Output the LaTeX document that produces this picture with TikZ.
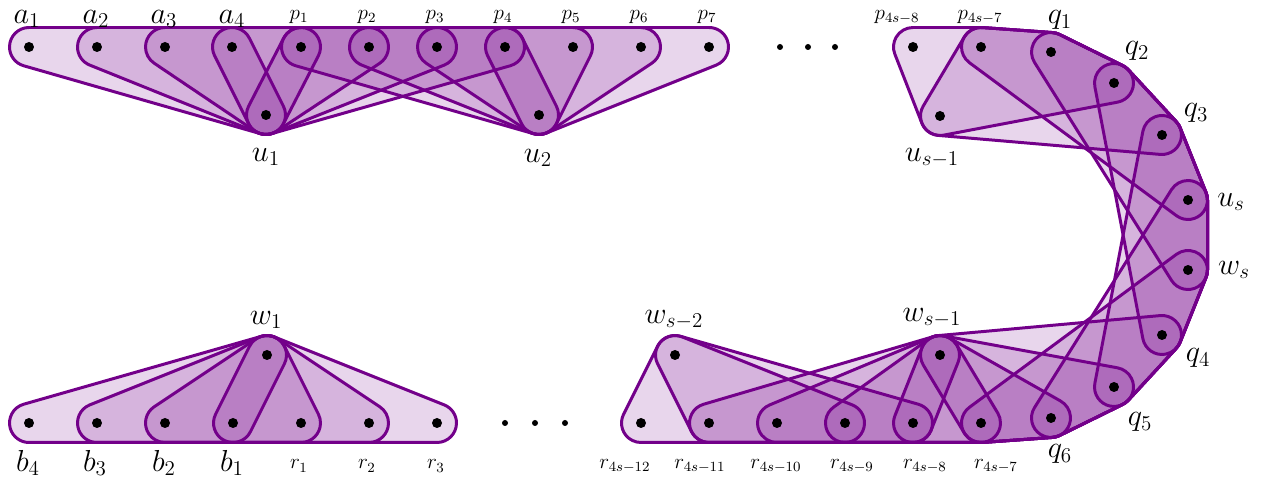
\documentclass[tikz,border=0pt]{standalone}
\usepackage{tikz}
\usetikzlibrary{calc}
\definecolor{hviolet}{RGB}{115,0,138}
\tikzset{
  hedge/.style ={draw=hviolet, fill=hviolet, fill opacity=0.16, line width=1.7pt, line join=round},
  vtx/.style   ={circle, fill=black, inner sep=0pt, minimum size=2mm},
  ell/.style   ={circle, fill=black, inner sep=0pt, minimum size=1.2mm},
  lbig/.style  ={inner sep=0pt, font=\LARGE},
  lsm/.style   ={inner sep=0pt, font=\large}
}
\def\hr{0.39cm}
% rounded hull of the vertices #1 (given counterclockwise)
\newcommand{\hedge}[1]{%
  \foreach \v [count=\i] in {#1}{%
    \expandafter\xdef\csname hv\i\endcsname{\v}%
    \xdef\hn{\i}}%
  \foreach \i in {1,...,\hn}{%
    \pgfmathtruncatemacro\j{mod(\i,\hn)+1}%
    \pgfmathanglebetweenpoints
      {\pgfpointanchor{\csname hv\i\endcsname}{center}}%
      {\pgfpointanchor{\csname hv\j\endcsname}{center}}%
    \expandafter\xdef\csname ha\i\endcsname{\pgfmathresult}}%
  \gdef\hpath{}%
  \foreach \i in {1,...,\hn}{%
    \pgfmathtruncatemacro\k{mod(\i+\hn-2,\hn)+1}%
    \pgfmathsetmacro\hs{\csname ha\k\endcsname-90}%
    \pgfmathsetmacro\hd{mod(\csname ha\i\endcsname-\csname ha\k\endcsname+720,360)}%
    \xdef\hpath{\hpath ($(\csname hv\i\endcsname)+(\hs:\hr)$)
      arc[start angle=\hs, delta angle=\hd, radius=\hr] --}}%
  \edef\hcmd{\noexpand\path[hedge] \hpath cycle;}\hcmd}

\begin{document}
\begin{tikzpicture}[x=0.02cm,y=-0.02cm]
  \useasboundingbox (0,0) rectangle (1265,482);

  % top row
  \coordinate (a1) at (29,47);  \coordinate (a2) at (97,47);
  \coordinate (a3) at (165,47); \coordinate (a4) at (232,47);
  \coordinate (p1) at (301,47); \coordinate (p2) at (369,47);
  \coordinate (p3) at (437,47); \coordinate (p4) at (505,47);
  \coordinate (p5) at (573,47); \coordinate (p6) at (641,47);
  \coordinate (p7) at (709,47);
  \coordinate (u1) at (266,115); \coordinate (u2) at (539,115);
  \coordinate (ps8) at (913,47); \coordinate (ps7) at (981,47);
  \coordinate (us1) at (940,116);
  % turn
  \coordinate (q1) at (1051,52);  \coordinate (q2) at (1114,83);
  \coordinate (q3) at (1162,135); \coordinate (us) at (1188,200);
  \coordinate (ws) at (1188,270); \coordinate (q4) at (1162,335);
  \coordinate (q5) at (1114,387); \coordinate (q6) at (1051,418);
  % bottom row
  \coordinate (b4) at (29,423);  \coordinate (b3) at (97,423);
  \coordinate (b2) at (165,423); \coordinate (b1) at (233,423);
  \coordinate (r1) at (301,423); \coordinate (r2) at (369,423);
  \coordinate (r3) at (437,423);
  \coordinate (w1) at (267,355);
  \coordinate (rs12) at (641,423); \coordinate (rs11) at (709,423);
  \coordinate (rs10) at (777,423); \coordinate (rs9) at (845,423);
  \coordinate (rs8) at (913,423);  \coordinate (rs7) at (981,423);
  \coordinate (ws2) at (675,355);  \coordinate (ws1) at (940,355);

  % hyperedges
  \hedge{a4,u1} \hedge{a3,u1,p1} \hedge{a2,u1,p2} \hedge{a1,u1,p3} \hedge{p1,u1,p4}
  \hedge{p4,u2} \hedge{p3,u2,p5} \hedge{p2,u2,p6} \hedge{p1,u2,p7}
  \hedge{ps8,us1,q2,q1,ps7} \hedge{ps7,us1,q3,q2,q1}
  \hedge{ps7,us,q3,q2,q1} \hedge{rs7,q6,q5,q4,ws}
  \hedge{us,q6,q5,q4,ws} \hedge{q1,ws,us,q3,q2}
  \hedge{q2,q4,ws,us,q3} \hedge{q3,q5,q4,ws,us}
  \hedge{b1,w1} \hedge{w1,b2,r1} \hedge{w1,b3,r2} \hedge{w1,b4,r3}
  \hedge{ws2,rs12,rs9} \hedge{ws2,rs11,rs8}
  \hedge{rs8,ws1} \hedge{ws1,rs9,rs7} \hedge{ws1,rs10,rs7,q6}
  \hedge{ws1,rs11,rs7,q6,q5} \hedge{ws1,rs7,q6,q5,q4}

  % vertices
  \foreach \v in {a1,a2,a3,a4,p1,p2,p3,p4,p5,p6,p7,u1,u2,ps8,ps7,us1,
                  q1,q2,q3,us,ws,q4,q5,q6,b4,b3,b2,b1,r1,r2,r3,w1,
                  rs12,rs11,rs10,rs9,rs8,rs7,ws2,ws1}
    \node[vtx] (d\v) at (\v) {};
  \foreach \x [count=\i] in {780,808,835} \node[ell] (et\i) at (\x,47) {};
  \foreach \x [count=\i] in {505,535,565} \node[ell] (eb\i) at (\x,423) {};

  % labels
  \node[lbig] (la1) at (27,19) {$a_1$};
  \node[lbig] (la2) at (96,19) {$a_2$};
  \node[lbig] (la3) at (164,19) {$a_3$};
  \node[lbig] (la4) at (232,19) {$a_4$};
  \node[lsm] (lp1) at (299,17) {$p_1$};
  \node[lsm] (lp2) at (367,17) {$p_2$};
  \node[lsm] (lp3) at (435,17) {$p_3$};
  \node[lsm] (lp4) at (503,17) {$p_4$};
  \node[lsm] (lp5) at (571,17) {$p_5$};
  \node[lsm] (lp6) at (639,17) {$p_6$};
  \node[lsm] (lp7) at (707,17) {$p_7$};
  \node[lbig] (lu1) at (266,157) {$u_1$};
  \node[lbig] (lu2) at (538,158) {$u_2$};
  \node[lsm] (lps8) at (897,17) {$p_{4s-8}$};
  \node[lsm] (lps7) at (980,17) {$p_{4s-7}$};
  \node[lbig] (lus1) at (932,158) {$u_{s-1}$};
  \node[lbig] (lq1) at (1060,20) {$q_1$};
  \node[lbig] (lq2) at (1137,51) {$q_2$};
  \node[lbig] (lq3) at (1196,113) {$q_3$};
  \node[lbig] (lus) at (1231,202) {$u_s$};
  \node[lbig] (lws) at (1234,270) {$w_s$};
  \node[lbig] (lq4) at (1198,358) {$q_4$};
  \node[lbig] (lq5) at (1140,422) {$q_5$};
  \node[lbig] (lq6) at (1060,454) {$q_6$};
  \node[lbig] (lws1) at (932,318) {$w_{s-1}$};
  \node[lbig] (lws2) at (674,320) {$w_{s-2}$};
  \node[lbig] (lw1) at (266,320) {$w_1$};
  \node[lbig] (lb4) at (28,463) {$b_4$};
  \node[lbig] (lb3) at (95,463) {$b_3$};
  \node[lbig] (lb2) at (164,463) {$b_2$};
  \node[lbig] (lb1) at (232,463) {$b_1$};
  \node[lsm] (lr1) at (299,466) {$r_1$};
  \node[lsm] (lr2) at (367,466) {$r_2$};
  \node[lsm] (lr3) at (436,466) {$r_3$};
  \node[lsm] (lrs12) at (625,466) {$r_{4s-12}$};
  \node[lsm] (lrs11) at (700,466) {$r_{4s-11}$};
  \node[lsm] (lrs10) at (776,466) {$r_{4s-10}$};
  \node[lsm] (lrs9) at (852,466) {$r_{4s-9}$};
  \node[lsm] (lrs8) at (925,466) {$r_{4s-8}$};
  \node[lsm] (lrs7) at (996,466) {$r_{4s-7}$};
\end{tikzpicture}
\end{document}
